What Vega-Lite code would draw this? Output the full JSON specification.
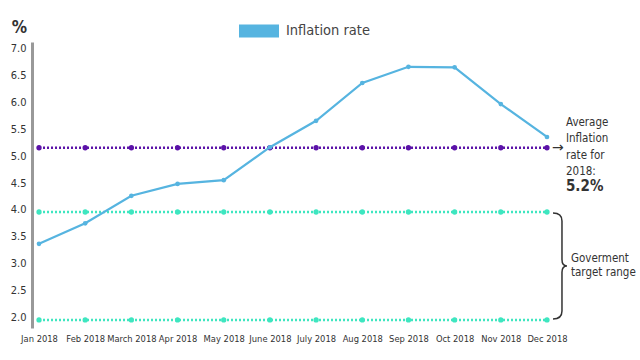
{
  "$schema": "https://vega.github.io/schema/vega-lite/v6.json",
  "autosize": "none",
  "width": 522,
  "height": 286,
  "padding": {"left": 32, "top": 42, "right": 86, "bottom": 32},
  "background": "white",
  "config": {
    "view": {"stroke": null},
    "font": "DejaVu Sans Condensed"
  },
  "datasets": {
    "infl": [
      {"month": "Jan 2018", "value": 3.41},
      {"month": "Feb 2018", "value": 3.79},
      {"month": "March 2018", "value": 4.30},
      {"month": "Apr 2018", "value": 4.52},
      {"month": "May 2018", "value": 4.59},
      {"month": "June 2018", "value": 5.20},
      {"month": "July 2018", "value": 5.69},
      {"month": "Aug 2018", "value": 6.39},
      {"month": "Sep 2018", "value": 6.69},
      {"month": "Oct 2018", "value": 6.68},
      {"month": "Nov 2018", "value": 6.00},
      {"month": "Dec 2018", "value": 5.39}
    ],
    "refs": [
      {"month": "Jan 2018", "series": "avg", "value": 5.19},
      {"month": "Feb 2018", "series": "avg", "value": 5.19},
      {"month": "March 2018", "series": "avg", "value": 5.19},
      {"month": "Apr 2018", "series": "avg", "value": 5.19},
      {"month": "May 2018", "series": "avg", "value": 5.19},
      {"month": "June 2018", "series": "avg", "value": 5.19},
      {"month": "July 2018", "series": "avg", "value": 5.19},
      {"month": "Aug 2018", "series": "avg", "value": 5.19},
      {"month": "Sep 2018", "series": "avg", "value": 5.19},
      {"month": "Oct 2018", "series": "avg", "value": 5.19},
      {"month": "Nov 2018", "series": "avg", "value": 5.19},
      {"month": "Dec 2018", "series": "avg", "value": 5.19},
      {"month": "Jan 2018", "series": "high", "value": 4.0},
      {"month": "Feb 2018", "series": "high", "value": 4.0},
      {"month": "March 2018", "series": "high", "value": 4.0},
      {"month": "Apr 2018", "series": "high", "value": 4.0},
      {"month": "May 2018", "series": "high", "value": 4.0},
      {"month": "June 2018", "series": "high", "value": 4.0},
      {"month": "July 2018", "series": "high", "value": 4.0},
      {"month": "Aug 2018", "series": "high", "value": 4.0},
      {"month": "Sep 2018", "series": "high", "value": 4.0},
      {"month": "Oct 2018", "series": "high", "value": 4.0},
      {"month": "Nov 2018", "series": "high", "value": 4.0},
      {"month": "Dec 2018", "series": "high", "value": 4.0},
      {"month": "Jan 2018", "series": "low", "value": 2.0},
      {"month": "Feb 2018", "series": "low", "value": 2.0},
      {"month": "March 2018", "series": "low", "value": 2.0},
      {"month": "Apr 2018", "series": "low", "value": 2.0},
      {"month": "May 2018", "series": "low", "value": 2.0},
      {"month": "June 2018", "series": "low", "value": 2.0},
      {"month": "July 2018", "series": "low", "value": 2.0},
      {"month": "Aug 2018", "series": "low", "value": 2.0},
      {"month": "Sep 2018", "series": "low", "value": 2.0},
      {"month": "Oct 2018", "series": "low", "value": 2.0},
      {"month": "Nov 2018", "series": "low", "value": 2.0},
      {"month": "Dec 2018", "series": "low", "value": 2.0}
    ],
    "notes": [
      {"month": "Dec 2018", "value": 5.19, "kind": "avgtext", "label": ["Average", "Inflation", "rate for", "2018:"]},
      {"month": "Dec 2018", "value": 5.19, "kind": "avgval", "label": "5.2%"},
      {"month": "Dec 2018", "value": 5.19, "kind": "arrow", "label": "→"},
      {"month": "Dec 2018", "value": 3.0, "kind": "range", "label": ["Goverment", "target  range"]}
    ]
  },
  "encoding": {
    "x": {
      "field": "month",
      "type": "ordinal",
      "sort": null,
      "scale": {"type": "point", "padding": 0.152, "domain": ["Jan 2018", "Feb 2018", "March 2018", "Apr 2018", "May 2018", "June 2018", "July 2018", "Aug 2018", "Sep 2018", "Oct 2018", "Nov 2018", "Dec 2018"]},
      "axis": {
        "title": null,
        "domain": false,
        "ticks": false,
        "grid": false,
        "labelAngle": 0,
        "labelFontSize": 9.3,
        "labelColor": "#333333",
        "labelPadding": 6,
        "labelBaseline": "top",
        "labelOverlap": false
      }
    },
    "y": {
      "field": "value",
      "type": "quantitative",
      "scale": {"domain": [1.85, 7.15], "nice": false, "zero": false},
      "axis": {
        "title": "%",
        "titleAngle": 0,
        "titleX": -13,
        "titleY": -15,
        "titleAlign": "center",
        "titleBaseline": "middle",
        "titleFontSize": 17,
        "titleFontWeight": "bold",
        "titleColor": "#333333",
        "values": [2, 2.5, 3, 3.5, 4, 4.5, 5, 5.5, 6, 6.5, 7],
        "format": ".1f",
        "grid": false,
        "ticks": false,
        "domainColor": "#999999",
        "domainWidth": 3,
        "labelFontSize": 11,
        "labelColor": "#333333",
        "labelPadding": 6,
        "labelBaseline": "middle",
        "labelOffset": -2,
        "labelOverlap": false
      }
    }
  },
  "layer": [
    {
      "data": {"name": "refs"},
      "transform": [{"filter": "datum.series !== 'avg'"}],
      "mark": {"type": "line", "color": "#3ee6c0", "strokeWidth": 2.5, "strokeDash": [2, 2]},
      "encoding": {"detail": {"field": "series"}}
    },
    {
      "data": {"name": "refs"},
      "transform": [{"filter": "datum.series !== 'avg'"}],
      "mark": {"type": "point", "filled": true, "color": "#3ee6c0", "size": 28, "opacity": 1}
    },
    {
      "data": {"name": "refs"},
      "transform": [{"filter": "datum.series === 'avg'"}],
      "mark": {"type": "line", "color": "#5b12a8", "strokeWidth": 2.5, "strokeDash": [2, 2]},
      "encoding": {}
    },
    {
      "data": {"name": "refs"},
      "transform": [{"filter": "datum.series === 'avg'"}],
      "mark": {"type": "point", "filled": true, "color": "#5b12a8", "size": 28, "opacity": 1}
    },
    {
      "data": {"name": "infl"},
      "mark": {"type": "line", "strokeWidth": 2.2},
      "encoding": {
        "color": {
          "datum": "Inflation rate",
          "type": "nominal",
          "scale": {"range": ["#56b4e0"]},
          "legend": {
            "title": null,
            "orient": "none",
            "legendX": 207,
            "legendY": -31,
            "padding": 0,
            "labelFontSize": 14.5,
            "labelColor": "#444444",
            "labelOffset": 7,
            "symbolType": "M-1,-0.33H1V0.33H-1Z",
            "symbolSize": 1600,
            "symbolFillColor": "#56b4e0",
            "symbolStrokeColor": "#56b4e0",
            "symbolStrokeWidth": 0,
            "symbolOpacity": 1,
            "encode": {
              "symbols": {"update": {"fill": {"value": "#56b4e0"}, "fillOpacity": {"value": 1}, "strokeWidth": {"value": 0}}}
            }
          }
        }
      }
    },
    {
      "data": {"name": "infl"},
      "mark": {"type": "point", "filled": true, "color": "#56b4e0", "size": 22, "opacity": 1}
    },
    {
      "data": {"name": "notes"},
      "transform": [{"filter": "datum.kind === 'avgtext'"}],
      "mark": {"type": "text", "align": "left", "baseline": "middle", "dx": 19, "dy": -25, "fontSize": 11.5, "lineHeight": 16.4, "color": "#333333"},
      "encoding": {"text": {"field": "label"}}
    },
    {
      "data": {"name": "notes"},
      "transform": [{"filter": "datum.kind === 'avgval'"}],
      "mark": {"type": "text", "align": "left", "baseline": "middle", "dx": 19, "dy": 38, "fontSize": 15, "fontWeight": "bold", "color": "#333333"},
      "encoding": {"text": {"field": "label"}}
    },
    {
      "data": {"name": "notes"},
      "transform": [{"filter": "datum.kind === 'arrow'"}],
      "mark": {"type": "text", "align": "left", "baseline": "middle", "dx": 5, "dy": 0, "fontSize": 14, "font": "DejaVu Sans", "color": "#333333"},
      "encoding": {"text": {"field": "label"}}
    },
    {
      "data": {"name": "notes"},
      "transform": [{"filter": "datum.kind === 'range'"}],
      "mark": {"type": "text", "align": "left", "baseline": "middle", "dx": 24, "dy": -7, "fontSize": 11.5, "lineHeight": 14, "color": "#333333"},
      "encoding": {"text": {"field": "label"}}
    },
    {
      "data": {"name": "notes"},
      "transform": [{"filter": "datum.kind === 'range'"}],
      "mark": {
        "type": "point",
        "filled": false,
        "shape": "M0.113,-1 Q0.283,-1 0.283,-0.85 L0.283,-0.12 Q0.283,0 0.377,0 Q0.283,0 0.283,0.12 L0.283,0.85 Q0.283,1 0.113,1",
        "size": 11236,
        "stroke": "#333333",
        "strokeWidth": 1.5,
        "opacity": 1
      }
    }
  ]
}
